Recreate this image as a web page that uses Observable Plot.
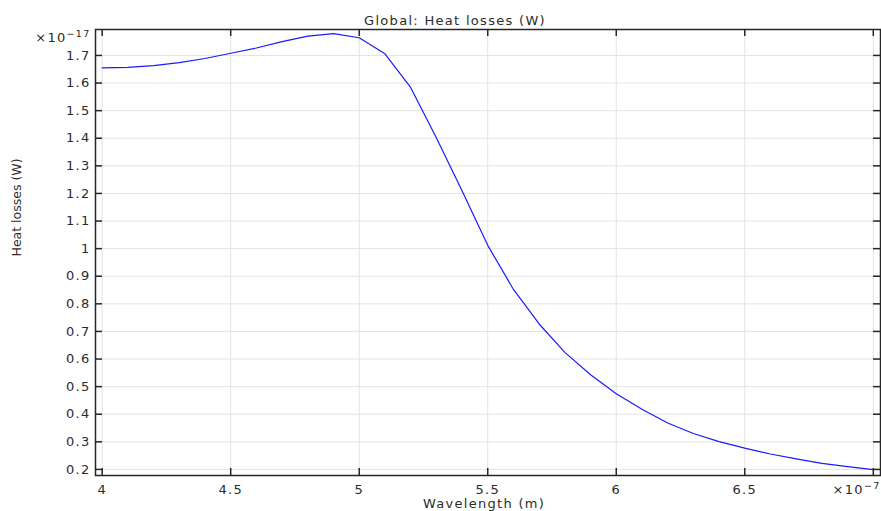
<!DOCTYPE html>
<html>
<head>
<meta charset="utf-8">
<script src="https://cdn.jsdelivr.net/npm/d3@7"></script>
<script src="https://cdn.jsdelivr.net/npm/@observablehq/plot@0.6"></script>
<style>
  html, body { margin: 0; padding: 0; background: #fff; }
  svg text { letter-spacing: 1.3px; }
</style>
</head>
<body>
<div id="chart"></div>
<script>
// Wavelength (×1e-7 m)
const wavelength = [4.0, 4.1, 4.2, 4.3, 4.4, 4.5, 4.6, 4.7, 4.8, 4.9,
                    5.0, 5.1, 5.2, 5.3, 5.4, 5.5, 5.6, 5.7, 5.8, 5.9,
                    6.0, 6.1, 6.2, 6.3, 6.4, 6.5, 6.6, 6.7, 6.8, 6.9, 7.0];
// Heat losses (×1e-17 W)
const heatLoss = [1.655, 1.657, 1.663, 1.674, 1.689, 1.708, 1.727, 1.750, 1.770, 1.779,
                  1.764, 1.706, 1.584, 1.402, 1.210, 1.012, 0.852, 0.727, 0.624, 0.543,
                  0.474, 0.418, 0.368, 0.330, 0.301, 0.277, 0.256, 0.238, 0.222, 0.210, 0.199];

const xTicks = [4, 4.5, 5, 5.5, 6, 6.5, 7];
const xTickLabels = ["4", "4.5", "5", "5.5", "6", "6.5", ""];
const yTicks = [0.2, 0.3, 0.4, 0.5, 0.6, 0.7, 0.8, 0.9, 1, 1.1, 1.2, 1.3, 1.4, 1.5, 1.6, 1.7];
const yTickLabels = ["0.2", "0.3", "0.4", "0.5", "0.6", "0.7", "0.8", "0.9", "1", "1.1", "1.2", "1.3", "1.4", "1.5", "1.6", "1.7"];
const xDomain = [3.974, 7.028];
const yDomain = [0.178, 1.794];

const titleText = "Global: Heat losses (W)";
const xLabel = "Wavelength (m)";
const yLabel = "Heat losses (W)";
const expBase = "×10";
const yExpPow = "−17";
const xExpPow = "−7";

const data = wavelength.map((w, i) => ({w, v: heatLoss[i]}));
const frameColor = "#262626";
const gridColor = "#e3e3e3";

const chart = Plot.plot({
  width: 881,
  height: 511,
  marginTop: 29,
  marginBottom: 36,
  marginLeft: 95,
  marginRight: 1,
  style: {fontFamily: "DejaVu Sans", fontSize: "13px", color: "#2b2b2b", background: "#fff"},
  x: {domain: xDomain},
  y: {domain: yDomain},
  marks: [
    Plot.gridX(xTicks, {stroke: gridColor, strokeOpacity: 1, strokeWidth: 1}),
    Plot.gridY(yTicks, {stroke: gridColor, strokeOpacity: 1, strokeWidth: 1}),
    Plot.line(data, {x: "w", y: "v", stroke: "#1a1aff", strokeWidth: 1.2}),
    // inward ticks
    Plot.ruleX(xTicks, {x: d => d, y1: yDomain[0], y2: yDomain[0], insetBottom: 7, stroke: frameColor, strokeWidth: 1.5}),
    Plot.ruleX(xTicks, {x: d => d, y1: yDomain[1], y2: yDomain[1], insetTop: 7, stroke: frameColor, strokeWidth: 1.5}),
    Plot.ruleY(yTicks, {y: d => d, x1: xDomain[0], x2: xDomain[0], insetLeft: 7, stroke: frameColor, strokeWidth: 1.5}),
    Plot.ruleY(yTicks, {y: d => d, x1: xDomain[1], x2: xDomain[1], insetRight: 7, stroke: frameColor, strokeWidth: 1.5}),
    Plot.frame({stroke: frameColor, strokeWidth: 1.5}),
    Plot.axisX(xTicks, {tickSize: 0, tickPadding: 9, tickFormat: (d, i) => xTickLabels[i], label: null, fill: "#2b2b2b"}),
    Plot.axisY(yTicks, {tickSize: 0, tickPadding: 5, tickFormat: (d, i) => yTickLabels[i], label: null, fill: "#2b2b2b"}),
    Plot.text([xExpPow], {frameAnchor: "bottom-right", textAnchor: "end", lineAnchor: "bottom", dy: 18, fill: "#2b2b2b", text: d => d}),
    Plot.text([yExpPow], {frameAnchor: "top-left", textAnchor: "end", lineAnchor: "bottom", dx: -5, dy: 12, fill: "#2b2b2b", text: d => d}),
    Plot.text([titleText], {frameAnchor: "top", lineAnchor: "bottom", dx: -33, dy: -5, fill: "#2b2b2b", text: d => d}),
    Plot.text([xLabel], {frameAnchor: "bottom", lineAnchor: "bottom", dx: -4, dy: 32, fill: "#2b2b2b", text: d => d}),
    Plot.text([yLabel], {frameAnchor: "left", rotate: -90, lineAnchor: "middle", dx: -79, dy: 4, fontSize: 12.5, fill: "#2b2b2b", text: d => d})
  ]
});

const svg = d3.select(chart);
svg.selectAll("text").filter(function() { return this.textContent === yLabel; })
  .style("letter-spacing", "0px");
// build "×10" + superscript exponent as real text with tspans
svg.selectAll("text").filter(function() { return this.textContent === yExpPow || this.textContent === xExpPow; })
  .each(function() {
    const t = d3.select(this);
    const pow = this.textContent;
    t.text(null);
    t.append("tspan").text(expBase);
    t.append("tspan").attr("font-size", "9.5px").attr("dy", "-0.5em").text(pow);
  });

document.getElementById("chart").appendChild(chart);
</script>
</body>
</html>
